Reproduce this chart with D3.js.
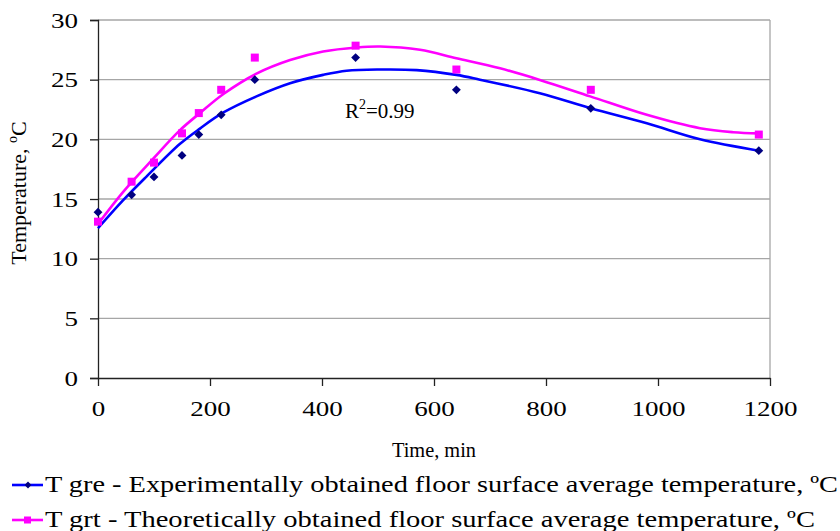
<!DOCTYPE html>
<html><head><meta charset="utf-8">
<script src="https://cdn.jsdelivr.net/npm/d3@7"></script>
<style>body{margin:0;background:#fff}svg{display:block}text{font-family:"Liberation Serif","Times New Roman",serif;fill:#000}</style>
</head><body>
<svg id="c" width="840" height="531"></svg>
<script>
const times = [0, 60, 100, 150, 180, 220, 280, 460, 640, 880, 1180];
const tgre = [13.9, 15.35, 16.85, 18.65, 20.4, 22.05, 25.0, 26.85, 24.15, 22.6, 19.05];
const tgrt = [13.1, 16.45, 18.05, 20.5, 22.2, 24.15, 26.85, 27.85, 25.85, 24.15, 20.4];
const trendBlueT = [0, 45, 87, 146, 182, 224, 283, 343, 402, 444, 504, 569, 640, 682, 789, 880, 980, 1075, 1180];
const trendBlueV = [12.55, 14.9, 16.9, 19.6, 20.9, 22.25, 23.6, 24.7, 25.4, 25.75, 25.85, 25.8, 25.4, 25.0, 23.86, 22.6, 21.34, 20.0, 19.05];
const trendPinkT = [0, 45, 99, 146, 182, 224, 283, 343, 402, 462, 504, 575, 640, 718, 789, 879, 980, 1075, 1134, 1180];
const trendPinkV = [12.9, 15.6, 18.4, 20.75, 22.2, 23.8, 25.5, 26.64, 27.36, 27.7, 27.78, 27.5, 26.8, 25.95, 24.98, 23.6, 22.05, 20.93, 20.6, 20.5];
const xTicks = [0, 200, 400, 600, 800, 1000, 1200];
const yTicks = [0, 5, 10, 15, 20, 25, 30];
const legendLabels = ["T gre - Experimentally obtained floor surface average temperature, \u00BAC",
                      "T grt - Theoretically obtained floor surface average temperature, \u00BAC"];

const svg = d3.select("#c");
const x = d3.scaleLinear().domain([0, 1200]).range([98, 770]);
const y = d3.scaleLinear().domain([0, 30]).range([378, 20]);

// gridlines
svg.append("g").selectAll("line").data(yTicks.filter(d => d > 0)).join("line")
  .attr("x1", 98).attr("x2", 770).attr("y1", d => y(d)).attr("y2", d => y(d))
  .attr("stroke", "#a6a6a6").attr("stroke-width", 1.3);
svg.append("line").attr("x1", 770).attr("x2", 770).attr("y1", y(30)).attr("y2", y(0))
  .attr("stroke", "#a6a6a6").attr("stroke-width", 1.3);

// axes
const ya = svg.append("g").attr("transform", "translate(98,0)")
  .call(d3.axisLeft(y).tickValues(yTicks).tickFormat(d3.format("d")).tickSize(8).tickPadding(12));
ya.select(".domain").attr("stroke", "#222").attr("stroke-width", 1.3);
ya.selectAll(".tick line").attr("stroke", "#222").attr("stroke-width", 1.3);
ya.selectAll("text").attr("font-size", 22).attr("font-family", "Liberation Serif").attr("fill", "#111")
  .attr("textLength", d => String(d).length * 13.5).attr("lengthAdjust", "spacingAndGlyphs");

const xa = svg.append("g").attr("transform", "translate(0,378)")
  .call(d3.axisBottom(x).tickValues(xTicks).tickFormat(d3.format("d")).tickSize(8).tickPadding(14).tickSizeOuter(0));
xa.select(".domain").attr("stroke", "#222").attr("stroke-width", 1.3);
xa.selectAll(".tick line").attr("stroke", "#222").attr("stroke-width", 1.3);
xa.selectAll("text").attr("font-size", 22).attr("font-family", "Liberation Serif").attr("fill", "#111")
  .attr("textLength", d => String(d).length * 13.5).attr("lengthAdjust", "spacingAndGlyphs");

// axis titles
svg.append("text").attr("x", 434).attr("y", 457).attr("text-anchor", "middle")
  .attr("font-size", 21).attr("textLength", 84).attr("lengthAdjust", "spacingAndGlyphs").text("Time, min");
const yt = svg.append("text").attr("transform", "translate(26,193) rotate(-90)")
  .attr("text-anchor", "middle").attr("font-size", 22);
yt.append("tspan").text("Temperature, ");
yt.append("tspan").attr("font-size", 14).attr("dy", -9).text("o");
yt.append("tspan").attr("dy", 9).text("C");

// trend lines
const line = d3.line().x(d => x(d[0])).y(d => y(d[1])).curve(d3.curveCatmullRom.alpha(0.5));
svg.append("path").datum(d3.zip(trendPinkT, trendPinkV)).attr("d", line)
  .attr("fill", "none").attr("stroke", "#ff00ff").attr("stroke-width", 2.6);
svg.append("path").datum(d3.zip(trendBlueT, trendBlueV)).attr("d", line)
  .attr("fill", "none").attr("stroke", "#0000ff").attr("stroke-width", 2.6);

// markers
const diamond = d3.symbol().type(d3.symbolDiamond2).size(50);
svg.append("g").selectAll("rect").data(d3.zip(times, tgrt)).join("rect")
  .attr("x", d => x(d[0]) - 4).attr("y", d => y(d[1]) - 4).attr("width", 8).attr("height", 8)
  .attr("fill", "#ff00ff");
svg.append("g").selectAll("path").data(d3.zip(times, tgre)).join("path")
  .attr("d", diamond).attr("transform", d => `translate(${x(d[0])},${y(d[1])})`)
  .attr("fill", "#000080");

// R^2 label
const r2 = svg.append("text").attr("x", 345).attr("y", 118).attr("font-size", 21);
r2.append("tspan").text("R");
r2.append("tspan").attr("font-size", 14).attr("dy", -9).text("2");
r2.append("tspan").attr("dy", 9).text("=0.99");

// legend
const lg = svg.append("g");
const legendColors = ["#0000ff", "#ff00ff"];
const legendY = [485, 520];
const legendLen = [793, 770];
legendLabels.forEach((lab, i) => {
  lg.append("line").attr("x1", 12).attr("x2", 43).attr("y1", legendY[i]).attr("y2", legendY[i])
    .attr("stroke", legendColors[i]).attr("stroke-width", 2.6);
  if (i === 0) {
    lg.append("path").attr("d", d3.symbol().type(d3.symbolDiamond2).size(30))
      .attr("transform", `translate(28,${legendY[i]})`).attr("fill", "#000080");
  } else {
    lg.append("rect").attr("x", 24).attr("y", legendY[i] - 3.5).attr("width", 7).attr("height", 7)
      .attr("fill", "#ff00ff");
  }
  lg.append("text").attr("x", 45).attr("y", legendY[i] + 7).attr("font-size", 23)
    .attr("textLength", legendLen[i]).attr("lengthAdjust", "spacingAndGlyphs").text(lab);
});
</script>
</body></html>
